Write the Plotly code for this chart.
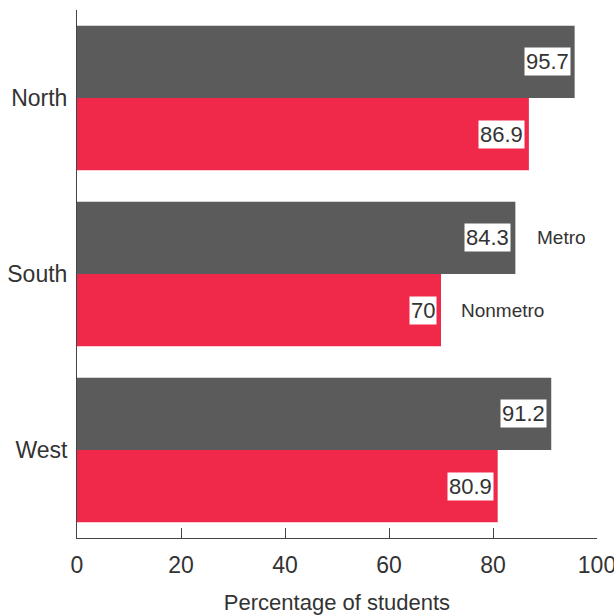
import plotly.graph_objects as go

regions = ["North", "South", "West"]
metro = [95.7, 84.3, 91.2]
nonmetro = [86.9, 70.0, 80.9]
series_names = ["Metro", "Nonmetro"]
x_ticks = [0, 20, 40, 60, 80, 100]

GRAY = "#5b5b5b"
RED = "#f0284a"
TXT = "#333333"
FONT = "Liberation Sans, Arial, sans-serif"
BARGAP = 0.18

fig = go.Figure()
fig.add_trace(go.Bar(y=regions, x=metro, orientation="h", name=series_names[0],
                     marker=dict(color=GRAY, line=dict(width=0))))
fig.add_trace(go.Bar(y=regions, x=nonmetro, orientation="h", name=series_names[1],
                     marker=dict(color=RED, line=dict(width=0))))

off = (1 - BARGAP) / 4
ann = []
for i, r in enumerate(regions):
    for val, dy in ((metro[i], -off), (nonmetro[i], off)):
        ann.append(dict(x=val, y=i + dy, xref="x", yref="y", text=f"{val:g}",
                        showarrow=False, xanchor="right", yanchor="middle", xshift=-4,
                        bgcolor="white", borderpad=1,
                        font=dict(family=FONT, size=22, color=TXT)))
# legend labels next to South bars
si = regions.index("South")
ann.append(dict(x=metro[si], y=si - off, xref="x", yref="y", text=series_names[0],
                showarrow=False, xanchor="left", yanchor="middle", xshift=20,
                font=dict(family=FONT, size=19, color=TXT)))
ann.append(dict(x=nonmetro[si], y=si + off, xref="x", yref="y", text=series_names[1],
                showarrow=False, xanchor="left", yanchor="middle", xshift=18,
                font=dict(family=FONT, size=19, color=TXT)))

fig.update_layout(
    width=614, height=616,
    margin=dict(l=77, r=17, t=10, b=78),
    paper_bgcolor="white", plot_bgcolor="white",
    barmode="group", bargap=BARGAP, bargroupgap=0,
    showlegend=False,
    annotations=ann,
    font=dict(family=FONT, color=TXT),
    xaxis=dict(range=[0, 100], tickvals=x_ticks, ticks="inside", ticklen=10,
               tickcolor="#444", showline=True, linecolor="#444", linewidth=1,
               showgrid=False, zeroline=False, automargin=False,
               ticklabeloverflow="allow",
               tickfont=dict(family=FONT, size=23, color=TXT), ticklabelstandoff=6,
               title=dict(text="Percentage of students", standoff=18,
                          font=dict(family=FONT, size=22, color=TXT))),
    yaxis=dict(autorange="reversed", showline=True, linecolor="#444", linewidth=1,
               ticks="", showgrid=False, zeroline=False, automargin=False,
               tickfont=dict(family=FONT, size=23, color=TXT), ticklabelstandoff=4),
)

fig.write_html("out.html")
